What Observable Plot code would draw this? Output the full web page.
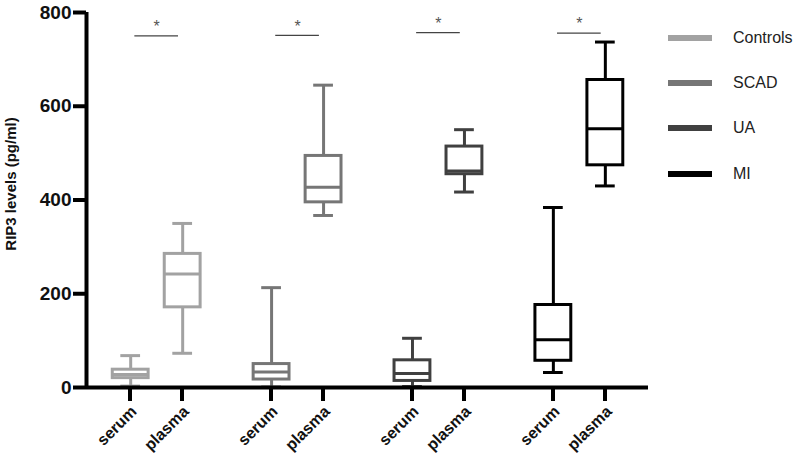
<!DOCTYPE html>
<html>
<head>
<meta charset="utf-8">
<script src="https://cdn.jsdelivr.net/npm/d3@7"></script>
<script src="https://cdn.jsdelivr.net/npm/@observablehq/plot@0.6"></script>
<style>
  body { margin: 0; background: #fff; font-family: "Liberation Sans", Arial, sans-serif; }
  #wrap { position: relative; width: 800px; height: 464px; overflow: hidden; }
  #wrap > svg { position: absolute; left: 0; top: 0; }
  #legend { position: absolute; left: 668px; top: 15px; }
  .item { display: flex; align-items: center; height: 45.3px; }
  .swatch { width: 44px; height: 6px; margin-right: 21px; }
  .lab { font-size: 16px; color: #222; }
  .xtick { position: absolute; width: 4px; height: 14px; background: #000; }
  .xlabel { position: absolute; font-size: 16px; line-height: 16px; font-weight: bold; color: #111; white-space: nowrap;
            transform-origin: 100% 50%; transform: rotate(-45deg); }
</style>
</head>
<body>
<div id="wrap"><div id="legend"></div></div>
<script>
const groups = ["Controls", "SCAD", "UA", "MI"];
const sampleTypes = ["serum", "plasma"];
const colors = ["#a2a2a2", "#767676", "#404040", "#000000"];
// order: Controls serum, Controls plasma, SCAD serum, SCAD plasma, UA serum, UA plasma, MI serum, MI plasma
const whiskerLow  = [3, 73, 1, 367, 2, 417, 32, 430];
const q1          = [20, 171, 17, 395, 14, 455, 57, 474];
const median      = [28, 242, 33, 427, 30, 462, 102, 552];
const q3          = [38, 285, 50, 494, 58, 514, 176, 656];
const whiskerHigh = [68, 350, 213, 645, 105, 550, 384, 737];
const sigY = [750, 751, 757, 756];
const yTicks = [0, 200, 400, 600, 800];
const yLabel = "RIP3 levels (pg/ml)";

const groupStep = 2.71;
const rows = [];
groups.forEach((g, gi) => sampleTypes.forEach((t, ti) => {
  const i = gi * 2 + ti;
  rows.push({group: g, type: t, pos: gi * groupStep + ti,
    lo: whiskerLow[i], q1: q1[i], med: median[i], q3: q3[i], hi: whiskerHigh[i]});
}));
const sig = groups.map((g, gi) => ({group: g, center: gi * groupStep + 0.5, y: sigY[gi]}));
const hb = 0.345, hc = 0.19, hs = 0.42;

const plot = Plot.plot({
  width: 800, height: 464,
  marginLeft: 86, marginRight: 152, marginTop: 12, marginBottom: 77,
  x: {domain: [-0.85, 9.96], axis: null},
  y: {domain: [0, 800], axis: null},
  style: {fontFamily: "'Liberation Sans', Arial, sans-serif", background: "white"},
  color: {domain: groups, range: colors},
  marks: [
    // whiskers
    Plot.ruleX(rows, {x: "pos", y1: "q3", y2: "hi", stroke: "group", strokeWidth: 3}),
    Plot.ruleX(rows, {x: "pos", y1: "lo", y2: "q1", stroke: "group", strokeWidth: 3}),
    Plot.ruleY(rows, {y: "hi", x1: d => d.pos - hc, x2: d => d.pos + hc, stroke: "group", strokeWidth: 3}),
    Plot.ruleY(rows, {y: "lo", x1: d => d.pos - hc, x2: d => d.pos + hc, stroke: "group", strokeWidth: 3}),
    // boxes
    Plot.rect(rows, {x1: d => d.pos - hb, x2: d => d.pos + hb, y1: "q1", y2: "q3", fill: "white", stroke: "group", strokeWidth: 3}),
    Plot.ruleY(rows, {y: "med", x1: d => d.pos - hb, x2: d => d.pos + hb, stroke: "group", strokeWidth: 3}),
    // significance
    Plot.ruleY(sig, {y: "y", x1: d => d.center - hs, x2: d => d.center + hs, stroke: "#444", strokeWidth: 1.3}),
    Plot.text(sig, {x: "center", y: "y", text: () => "*", dy: -9, fontSize: 16, fill: "#555"}),
    // axes
    Plot.ruleY([0], {stroke: "black", strokeWidth: 4}),
    Plot.ruleX([-0.85], {y1: 0, y2: 800, stroke: "black", strokeWidth: 4}),
    Plot.axisY({ticks: yTicks, tickSize: 13, strokeWidth: 4, tickPadding: 2, fontSize: 19, fontWeight: "bold", fill: "#111", label: null}),
    Plot.text([yLabel], {frameAnchor: "left", text: d => d, rotate: -90, textAnchor: "middle", dx: -75, dy: -16, fontSize: 15, fontWeight: "bold", fill: "#111"})
  ]
});

const wrap = document.getElementById("wrap");
wrap.prepend(plot);

// x-axis ticks and rotated labels, positioned through the plot's own scales
const sx = plot.scale("x"), sy = plot.scale("y");
const y0 = sy.apply(0);
rows.forEach(r => {
  const px = sx.apply(r.pos);
  const tk = document.createElement("div");
  tk.className = "xtick";
  tk.style.left = (px - 2) + "px";
  tk.style.top = y0 + "px";
  wrap.appendChild(tk);
  const lb = document.createElement("div");
  lb.className = "xlabel";
  lb.textContent = r.type;
  lb.style.right = (800 - (px + 4)) + "px";
  lb.style.top = (y0 + 22 - 8) + "px";
  wrap.appendChild(lb);
});

const legend = document.getElementById("legend");
groups.forEach((g, i) => {
  const it = document.createElement("div");
  it.className = "item";
  it.innerHTML = `<div class="swatch" style="background:${colors[i]}"></div><span class="lab">${g}</span>`;
  legend.appendChild(it);
});
</script>
</body>
</html>
